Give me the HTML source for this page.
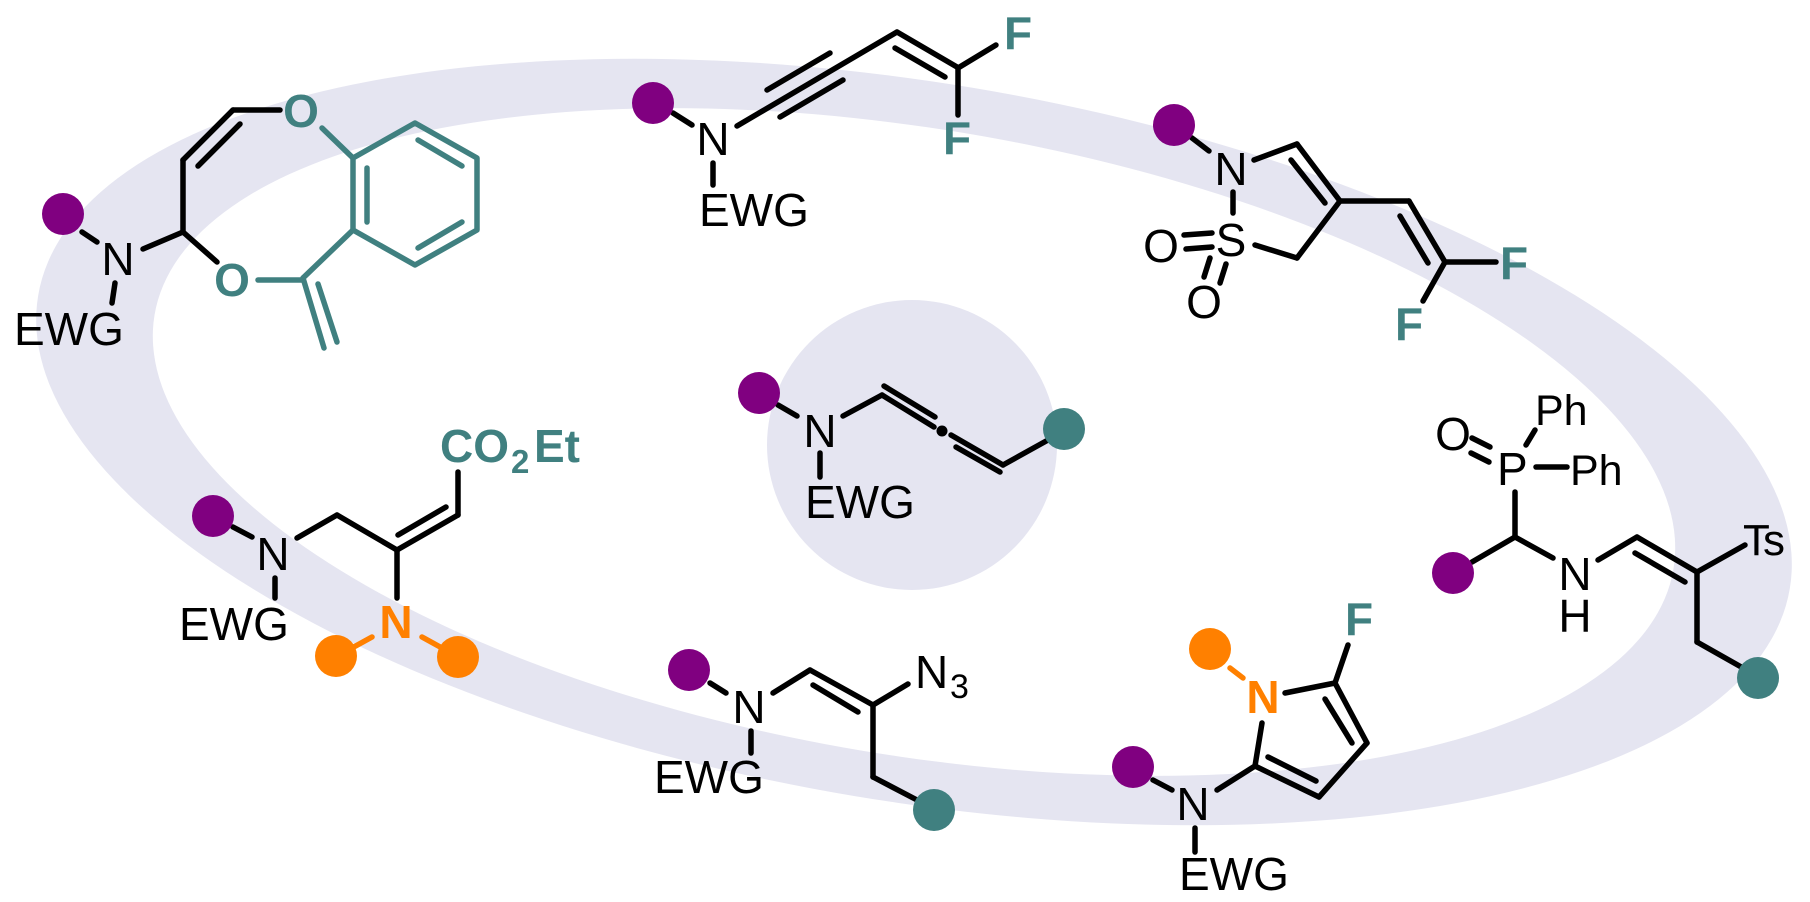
<!DOCTYPE html>
<html>
<head>
<meta charset="utf-8">
<style>
html,body{margin:0;padding:0;background:#fff;}
svg{display:block;}
text{font-family:"Liberation Sans",Arial,sans-serif;}
</style>
</head>
<body>
<svg width="1810" height="902" viewBox="0 0 1810 902" xmlns="http://www.w3.org/2000/svg">
<rect width="1810" height="902" fill="#fff"/>
<!-- ring -->
<g transform="translate(914,442) rotate(9.5)">
<path fill="#e5e5f1" fill-rule="evenodd" d="M -888 0 A 888 359 0 1 0 888 0 A 888 359 0 1 0 -888 0 Z M -770 0 A 770 313 0 1 0 770 0 A 770 313 0 1 0 -770 0 Z"/>
</g>
<!-- center circle -->
<circle cx="912" cy="445" r="145" fill="#e5e5f1"/>

<g stroke="#000" stroke-width="5.5" stroke-linecap="round" fill="none">
<!-- left-top molecule -->
<line x1="82" y1="232" x2="97" y2="242"/>
<line x1="115" y1="283" x2="112" y2="303"/>
<line x1="143" y1="249" x2="183" y2="232"/>
<line x1="183" y1="232" x2="183" y2="160"/>
<line x1="183" y1="160" x2="233" y2="110"/>
<line x1="198" y1="166" x2="240" y2="124"/>
<line x1="233" y1="110" x2="280" y2="110"/>
<line x1="183" y1="232" x2="217" y2="262"/>

<!-- top molecule -->
<line x1="673" y1="113" x2="692" y2="125"/>
<line x1="713" y1="163" x2="713" y2="185"/>
<line x1="737" y1="126" x2="897" y2="32"/>
<line x1="767" y1="90" x2="830" y2="53"/>
<line x1="780" y1="117" x2="843" y2="80"/>
<line x1="897" y1="32" x2="957" y2="67"/>
<line x1="895" y1="48" x2="945" y2="77"/>
<line x1="958" y1="68" x2="996" y2="45"/>
<line x1="958" y1="68" x2="958" y2="115"/>

<!-- sulfonamide molecule -->
<line x1="1192" y1="138" x2="1209" y2="151"/>
<line x1="1254" y1="160" x2="1297" y2="144"/>
<line x1="1297" y1="144" x2="1340" y2="201"/>
<line x1="1291" y1="160" x2="1325" y2="203"/>
<line x1="1340" y1="201" x2="1297" y2="258"/>
<line x1="1297" y1="258" x2="1255" y2="245"/>
<line x1="1233" y1="192" x2="1233" y2="213"/>
<line x1="1184" y1="235" x2="1212" y2="233"/>
<line x1="1186" y1="249" x2="1212" y2="247"/>
<line x1="1210" y1="258" x2="1204" y2="277"/>
<line x1="1226" y1="264" x2="1220" y2="283"/>
<line x1="1340" y1="201" x2="1409" y2="201"/>
<line x1="1409" y1="201" x2="1445" y2="262"/>
<line x1="1400" y1="216" x2="1428" y2="263"/>
<line x1="1445" y1="262" x2="1496" y2="262"/>
<line x1="1445" y1="262" x2="1423" y2="301"/>

<!-- center molecule -->
<line x1="778" y1="405" x2="797" y2="416"/>
<line x1="820" y1="453" x2="820" y2="477"/>
<line x1="843" y1="416" x2="882" y2="395"/>
<line x1="882" y1="395" x2="934" y2="427"/>
<line x1="884" y1="386" x2="935" y2="417"/>
<line x1="951" y1="435" x2="1003" y2="465"/>
<line x1="956" y1="447" x2="1000" y2="472"/>
<line x1="1003" y1="465" x2="1048" y2="440"/>

<!-- left-bottom molecule -->
<line x1="233" y1="527" x2="252" y2="537"/>
<line x1="275" y1="578" x2="275" y2="598"/>
<line x1="297" y1="538" x2="337" y2="515"/>
<line x1="337" y1="515" x2="397" y2="550"/>
<line x1="397" y1="550" x2="397" y2="598"/>
<line x1="397" y1="550" x2="458" y2="515"/>
<line x1="398" y1="535" x2="446" y2="507"/>
<line x1="458" y1="515" x2="458" y2="472"/>

<!-- bottom middle -->
<line x1="710" y1="683" x2="726" y2="693"/>
<line x1="751" y1="731" x2="751" y2="753"/>
<line x1="773" y1="693" x2="810" y2="670"/>
<line x1="810" y1="670" x2="873" y2="705"/>
<line x1="813" y1="685" x2="858" y2="712"/>
<line x1="873" y1="705" x2="908" y2="684"/>
<line x1="873" y1="705" x2="873" y2="777"/>
<line x1="873" y1="777" x2="917" y2="800"/>

<!-- pyrrole -->
<line x1="1285" y1="693" x2="1335" y2="683"/>
<line x1="1335" y1="683" x2="1348" y2="645"/>
<line x1="1335" y1="683" x2="1367" y2="743"/>
<line x1="1325" y1="699" x2="1352" y2="743"/>
<line x1="1367" y1="743" x2="1319" y2="797"/>
<line x1="1319" y1="797" x2="1255" y2="766"/>
<line x1="1316" y1="781" x2="1268" y2="757"/>
<line x1="1255" y1="766" x2="1262" y2="723"/>
<line x1="1255" y1="766" x2="1217" y2="790"/>
<line x1="1153" y1="780" x2="1172" y2="790"/>
<line x1="1195" y1="828" x2="1195" y2="852"/>

<!-- right molecule -->
<line x1="1472" y1="438" x2="1490" y2="447"/>
<line x1="1471" y1="453" x2="1489" y2="462"/>
<line x1="1526" y1="445" x2="1535" y2="430"/>
<line x1="1536" y1="467" x2="1567" y2="467"/>
<line x1="1515" y1="492" x2="1515" y2="537"/>
<line x1="1515" y1="537" x2="1472" y2="562"/>
<line x1="1515" y1="537" x2="1553" y2="558"/>
<line x1="1598" y1="560" x2="1637" y2="537"/>
<line x1="1637" y1="537" x2="1697" y2="572"/>
<line x1="1635" y1="553" x2="1685" y2="582"/>
<line x1="1697" y1="572" x2="1745" y2="545"/>
<line x1="1697" y1="572" x2="1697" y2="642"/>
<line x1="1697" y1="642" x2="1743" y2="668"/>
</g>

<!-- teal bonds -->
<g stroke="#408080" stroke-width="5.5" stroke-linecap="round" fill="none" stroke-linejoin="round">
<line x1="322" y1="128" x2="353" y2="158"/>
<polygon points="353,158 415,123 477,158 477,230 415,265 353,230"/>
<line x1="367" y1="168" x2="367" y2="222"/>
<line x1="418" y1="140" x2="462" y2="166"/>
<line x1="418" y1="248" x2="462" y2="222"/>
<line x1="353" y1="230" x2="303" y2="278"/>
<line x1="302" y1="280" x2="258" y2="280"/>
<line x1="303" y1="278" x2="324" y2="348"/>
<line x1="318" y1="284" x2="337" y2="342"/>
</g>

<!-- orange bonds -->
<g stroke="#ff8000" stroke-width="5.5" stroke-linecap="round">
<line x1="352" y1="648" x2="372" y2="637"/>
<line x1="422" y1="637" x2="442" y2="648"/>
<line x1="1230" y1="668" x2="1243" y2="678"/>
</g>

<!-- dots -->
<g fill="#800080">
<circle cx="63" cy="214" r="21"/>
<circle cx="653" cy="103" r="21"/>
<circle cx="1174" cy="125" r="21"/>
<circle cx="759" cy="393" r="21"/>
<circle cx="213" cy="516" r="21"/>
<circle cx="689" cy="670" r="21"/>
<circle cx="1133" cy="767" r="21"/>
<circle cx="1453" cy="573" r="21"/>
</g>
<g fill="#408080">
<circle cx="1064" cy="429" r="21"/>
<circle cx="934" cy="810" r="21"/>
<circle cx="1758" cy="678" r="21"/>
</g>
<g fill="#ff8000">
<circle cx="336" cy="656" r="21"/>
<circle cx="458" cy="657" r="21"/>
<circle cx="1210" cy="649" r="21"/>
</g>
<circle cx="942" cy="431" r="5.5" fill="#000"/>

<!-- black labels -->
<g font-size="46" fill="#000">
<text x="118" y="275" text-anchor="middle">N</text>
<text x="14" y="345">EWG</text>
<text x="713" y="155" text-anchor="middle">N</text>
<text x="699" y="226">EWG</text>
<text x="1231" y="185" text-anchor="middle">N</text>
<text x="1231" y="256" text-anchor="middle">S</text>
<text x="1161" y="262" text-anchor="middle">O</text>
<text x="1204" y="318" text-anchor="middle">O</text>
<text x="820" y="447" text-anchor="middle">N</text>
<text x="805" y="518">EWG</text>
<text x="273" y="570" text-anchor="middle">N</text>
<text x="179" y="640">EWG</text>
<text x="749" y="723" text-anchor="middle">N</text>
<text x="654" y="793">EWG</text>
<text x="915" y="688">N</text>
<text x="950" y="698" font-size="34">3</text>
<text x="1193" y="820" text-anchor="middle">N</text>
<text x="1179" y="890">EWG</text>
<text x="1497" y="485">P</text>
<text x="1453" y="450" text-anchor="middle">O</text>
<text x="1535" y="425" font-size="43">Ph</text>
<text x="1570" y="485" font-size="43">Ph</text>
<text x="1575" y="590" text-anchor="middle">N</text>
<text x="1575" y="632" text-anchor="middle">H</text>
<text x="1743" y="555" font-size="44" letter-spacing="-2">Ts</text>
</g>

<!-- teal labels -->
<g font-size="46" font-weight="bold" fill="#408080">
<text x="301" y="127" text-anchor="middle">O</text>
<text x="232" y="296" text-anchor="middle">O</text>
<text x="1004" y="49">F</text>
<text x="943" y="154">F</text>
<text x="1500" y="279">F</text>
<text x="1395" y="340">F</text>
<text x="1345" y="635">F</text>
<text x="440" y="462">CO</text>
<text x="511" y="473" font-size="33">2</text>
<text x="534" y="462">Et</text>
</g>

<!-- orange labels -->
<g font-size="46" font-weight="bold" fill="#ff8000">
<text x="396" y="638" text-anchor="middle">N</text>
<text x="1263" y="713" text-anchor="middle">N</text>
</g>
</svg>
</body>
</html>
